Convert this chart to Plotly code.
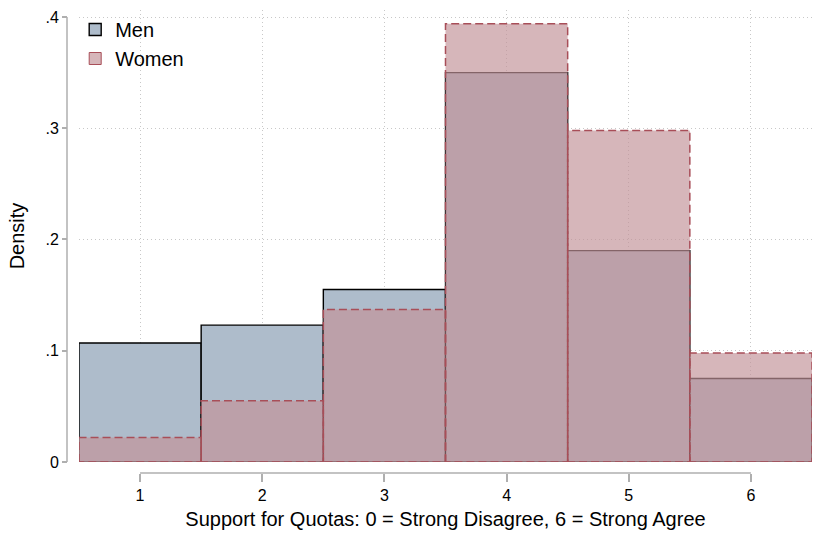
import plotly.graph_objects as go

categories = [1, 2, 3, 4, 5, 6]
men_density = [0.107, 0.123, 0.155, 0.350, 0.190, 0.075]
women_density = [0.022, 0.055, 0.137, 0.394, 0.298, 0.098]
y_tick_vals = [0, 0.1, 0.2, 0.3, 0.4]
y_tick_text = ["0", ".1", ".2", ".3", ".4"]
x_title = "Support for Quotas: 0 = Strong Disagree, 6 = Strong Agree"
y_title = "Density"

MEN_FILL = "rgb(174,188,203)"
WOMEN_FILL = "rgba(195,148,154,0.68)"
WOMEN_LINE = "rgb(168,78,88)"
AXIS_COL = "rgb(175,175,175)"
GRID_COL = "rgb(200,200,200)"
FONT = "Liberation Sans, Arial, Helvetica, sans-serif"

fig = go.Figure()

fig.add_trace(go.Bar(
    x=categories, y=men_density, width=1, name="Men",
    marker=dict(color=MEN_FILL, line=dict(color="black", width=1.4)),
    showlegend=True,
))
fig.add_trace(go.Bar(
    x=categories, y=women_density, width=1, name="Women",
    marker=dict(color=WOMEN_FILL, line=dict(width=0)),
    showlegend=False,
))

# dashed outline for women bars (derived from data)
ox, oy = [], []
for c, h in zip(categories, women_density):
    ox += [c - 0.5, c - 0.5, c + 0.5, c + 0.5, c - 0.5, None]
    oy += [0, h, h, 0, 0, None]
fig.add_trace(go.Scatter(
    x=ox, y=oy, mode="lines", showlegend=False, hoverinfo="skip",
    line=dict(color=WOMEN_LINE, width=1.5, dash="8px,4px"),
))

# legend-only entry for Women
fig.add_trace(go.Bar(
    x=[None], y=[None], name="Women",
    marker=dict(color=WOMEN_FILL, line=dict(color=WOMEN_LINE, width=1)),
    showlegend=True,
))

fig.update_layout(
    width=820, height=534,
    margin=dict(l=67, r=8, t=10, b=61),
    paper_bgcolor="white", plot_bgcolor="white",
    barmode="overlay",
    font=dict(family=FONT, color="black"),
    legend=dict(
        x=0.011, y=1.0, xanchor="left", yanchor="top",
        bgcolor="rgba(0,0,0,0)", font=dict(size=20),
        traceorder="normal", itemwidth=30,
    ),
    xaxis=dict(
        range=[0.5, 6.5], domain=[0.0161, 1],
        anchor="free", position=0,
        tickvals=categories, ticktext=[str(c) for c in categories],
        ticks="outside", ticklen=8, tickcolor=AXIS_COL, tickwidth=1.5,
        tickfont=dict(size=16),
        showline=False, zeroline=False,
        showgrid=True, gridcolor=GRID_COL, griddash="1px,3px", gridwidth=1,
        title=dict(text=x_title, font=dict(size=20), standoff=8),
    ),
    yaxis=dict(
        range=[0, 0.4063], domain=[0.0238, 1],
        anchor="free", position=0,
        tickvals=y_tick_vals, ticktext=y_tick_text,
        ticks="outside", ticklen=5, tickcolor=AXIS_COL, tickwidth=1.5,
        tickfont=dict(size=16),
        showline=False, zeroline=False,
        showgrid=True, gridcolor=GRID_COL, griddash="1px,3px", gridwidth=1,
        title=dict(text=y_title, font=dict(size=20), standoff=14),
    ),
    shapes=[
        dict(type="line", xref="x", yref="paper",
             x0=categories[0], x1=categories[-1], y0=0, y1=0,
             line=dict(color=AXIS_COL, width=1.5), layer="below"),
        dict(type="line", xref="paper", yref="y",
             x0=0, x1=0, y0=y_tick_vals[0], y1=y_tick_vals[-1],
             line=dict(color=AXIS_COL, width=1.5), layer="below"),
    ],
)

fig.write_html("out.html", config={"displayModeBar": False},
               post_script="document.body.style.margin='0px';")
